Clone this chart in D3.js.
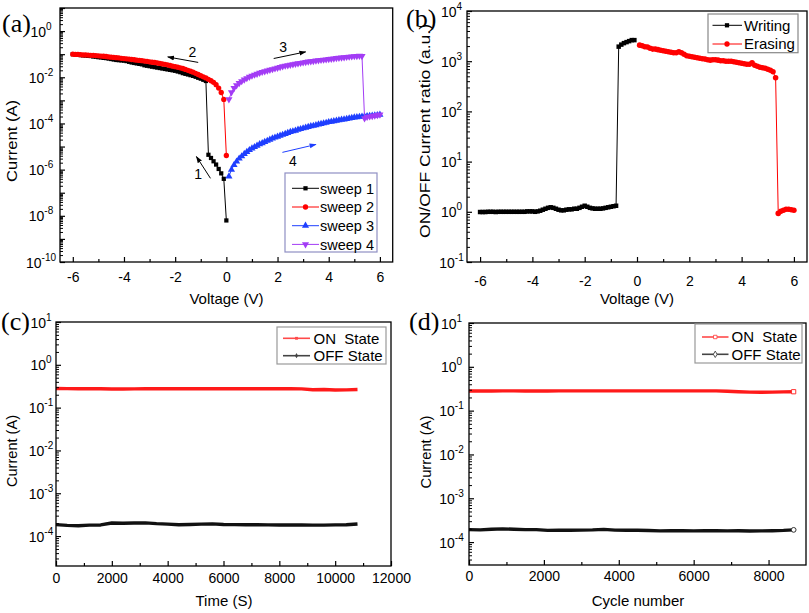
<!DOCTYPE html>
<html><head><meta charset="utf-8">
<script src="https://cdn.jsdelivr.net/npm/d3@7"></script>
<style>
body{margin:0;background:#fff;}
svg{display:block;font-family:Arial,"Liberation Sans",sans-serif;}
</style></head><body>
<svg id="chart" width="809" height="613"></svg>
<script>
// ---------- DATA ----------
// Panel (a): I-V sweeps (voltage grids in V, current in A)
const sweep1V = d3.range(0, -60.5, -1).map(v => v / 10);            // 0 -> -6
const sweep1I = [6.3e-9,4.0e-7,6.9e-7,1.07e-6,1.66e-6,2.3e-6,3.2e-6,4.4e-6,
  6.9e-3,7.8e-3,8.7e-3,9.5e-3,1.05e-2,1.15e-2,1.23e-2,1.32e-2,1.41e-2,1.51e-2,1.66e-2,1.78e-2,
  1.91e-2,2.0e-2,2.09e-2,2.19e-2,2.29e-2,2.4e-2,2.51e-2,2.63e-2,2.75e-2,2.88e-2,
  3.02e-2,3.16e-2,3.31e-2,3.63e-2,3.8e-2,3.98e-2,4.17e-2,4.37e-2,4.68e-2,5.01e-2,
  5.25e-2,5.37e-2,5.5e-2,5.62e-2,5.89e-2,6.17e-2,6.46e-2,6.76e-2,6.92e-2,7.24e-2,
  7.41e-2,7.76e-2,7.94e-2,8.32e-2,8.51e-2,8.71e-2,8.91e-2,9.12e-2,9.33e-2,9.77e-2,1.0e-1];
const sweep2V = d3.range(0, -60.5, -1).map(v => v / 10);            // 0 -> -6
const sweep2I = [4.1e-6,1.1e-3,2.19e-3,3.39e-3,4.79e-3,6.03e-3,7.08e-3,8.13e-3,9.33e-3,1.05e-2,
  1.17e-2,1.32e-2,1.48e-2,1.66e-2,1.82e-2,2.0e-2,2.19e-2,2.4e-2,2.57e-2,2.75e-2,
  2.88e-2,3.02e-2,3.24e-2,3.47e-2,3.63e-2,3.8e-2,3.98e-2,4.17e-2,4.37e-2,4.47e-2,
  4.68e-2,4.9e-2,5.01e-2,5.25e-2,5.37e-2,5.5e-2,5.75e-2,5.89e-2,6.17e-2,6.31e-2,
  6.46e-2,6.61e-2,6.92e-2,7.08e-2,7.24e-2,7.41e-2,7.59e-2,7.94e-2,8.13e-2,8.32e-2,
  8.51e-2,8.71e-2,8.91e-2,8.91e-2,9.12e-2,9.33e-2,9.33e-2,9.55e-2,9.77e-2,9.77e-2,1.0e-1];
const sweep3V = d3.range(1, 60.5, 1).map(v => v / 10);              // 0.1 -> 6
const sweep3I = [5.1e-7,1.0e-6,1.58e-6,2.24e-6,3.02e-6,3.8e-6,4.79e-6,5.89e-6,7.08e-6,8.32e-6,
  9.55e-6,1.1e-5,1.26e-5,1.41e-5,1.58e-5,1.78e-5,2.0e-5,2.24e-5,2.45e-5,2.69e-5,
  2.95e-5,3.24e-5,3.55e-5,3.89e-5,4.27e-5,4.57e-5,4.9e-5,5.37e-5,5.75e-5,6.17e-5,
  6.61e-5,7.08e-5,7.59e-5,7.94e-5,8.51e-5,9.12e-5,9.55e-5,1.02e-4,1.07e-4,1.15e-4,
  1.2e-4,1.26e-4,1.32e-4,1.38e-4,1.45e-4,1.51e-4,1.58e-4,1.66e-4,1.74e-4,1.82e-4,
  1.86e-4,1.95e-4,2.0e-4,2.04e-4,2.09e-4,2.14e-4,2.19e-4,2.24e-4,2.29e-4,2.4e-4];
const sweep4V = d3.range(1, 60.5, 1).map(v => v / 10);              // 0.1 -> 6
const sweep4I = [1.1e-3,2.24e-3,3.39e-3,4.47e-3,5.62e-3,6.76e-3,7.94e-3,9.12e-3,1.05e-2,1.17e-2,
  1.29e-2,1.41e-2,1.55e-2,1.7e-2,1.82e-2,1.95e-2,2.09e-2,2.24e-2,2.4e-2,2.57e-2,
  2.75e-2,2.95e-2,3.16e-2,3.31e-2,3.47e-2,3.63e-2,3.8e-2,3.98e-2,4.17e-2,4.37e-2,
  4.57e-2,4.79e-2,4.9e-2,5.01e-2,5.25e-2,5.37e-2,5.62e-2,5.75e-2,5.89e-2,6.17e-2,
  6.31e-2,6.46e-2,6.76e-2,6.92e-2,7.08e-2,7.24e-2,7.59e-2,7.76e-2,7.94e-2,8.13e-2,
  8.32e-2,8.51e-2,8.32e-2,1.66e-4,1.91e-4,2.0e-4,2.09e-4,2.19e-4,2.29e-4,2.4e-4];
const sweepNames = ["sweep 1","sweep 2","sweep 3","sweep 4"];
// sweep direction annotations (voltage, current)
const arrowLabels = ["1","2","3","4"];
const arrowFrom = [[-0.62,4.2e-7],[-1.10,4.4e-2],[1.85,6.5e-2],[2.19,5.6e-6]];
const arrowTo   = [[-1.17,3.7e-6],[-2.29,7.6e-2],[3.10,1.26e-1],[3.50,1.23e-5]];
const arrowText = [[-1.10,6.5e-7],[-1.33,1.26e-1],[2.22,1.95e-1],[2.60,2.45e-6]];

// Panel (b): ON/OFF ratio
const writingV = d3.range(-60, -0.5, 1).map(v => v / 10);           // -6 -> -0.1
const writingR = [0.99,0.99,0.99,1.0,1.0,1.0,0.99,1.0,1.0,1.0,
  1.0,1.0,1.0,1.0,1.0,1.0,1.0,1.0,1.02,1.02,
  1.02,1.0,1.02,1.05,1.10,1.15,1.20,1.23,1.20,1.15,
  1.10,1.07,1.07,1.10,1.12,1.12,1.15,1.15,1.20,1.26,
  1.32,1.26,1.20,1.17,1.15,1.15,1.15,1.17,1.20,1.23,
  1.26,1.29,1.32,1950,2140,2290,2400,2510,2630,2630];
const erasingV = d3.range(1, 60.5, 1).map(v => v / 10);             // 0.1 -> 6
const erasingR = [2090,2040,1950,1910,1820,1740,1740,1700,1660,1620,
  1580,1550,1510,1480,1480,1550,1480,1380,1290,1260,
  1230,1200,1170,1150,1120,1100,1070,1050,1070,1070,
  1050,1020,1020,1000,1000,1000,977,955,933,912,
  891,871,871,933,832,794,759,741,724,692,
  661,617,468,0.93,1.02,1.07,1.12,1.12,1.10,1.07];

// Panel (c): retention
const retentionT = [0,400,800,1200,1600,2000,2400,2800,3200,3600,4000,4400,4800,5200,5600,6000,
  6400,6800,7200,7600,8000,8400,8800,9200,9600,10000,10400,10800];
const retentionOn = [0.28,0.278,0.276,0.276,0.275,0.272,0.273,0.274,0.275,0.275,0.276,0.276,0.276,0.277,
  0.277,0.276,0.276,0.276,0.275,0.275,0.276,0.276,0.274,0.262,0.265,0.258,0.26,0.265];
const retentionOff = [1.85e-4,1.78e-4,1.74e-4,1.8e-4,1.82e-4,2.02e-4,2.0e-4,2.02e-4,2.03e-4,1.95e-4,1.9e-4,1.84e-4,
  1.86e-4,1.9e-4,1.93e-4,1.86e-4,1.85e-4,1.84e-4,1.84e-4,1.83e-4,1.82e-4,1.81e-4,1.81e-4,1.8e-4,
  1.8e-4,1.83e-4,1.84e-4,1.92e-4];

// Panel (d): endurance
const cycleN = [0,300,600,900,1200,1500,1800,2100,2400,2700,3000,3300,3600,3900,4200,4500,4800,5100,
  5400,5700,6000,6300,6600,6900,7200,7500,7800,8100,8400,8670];
const cycleOn = [0.28,0.28,0.281,0.282,0.282,0.281,0.281,0.281,0.282,0.282,0.282,0.282,0.282,0.282,0.282,
  0.282,0.282,0.282,0.282,0.282,0.282,0.282,0.283,0.278,0.27,0.265,0.262,0.265,0.268,0.27];
const cycleOff = [1.92e-4,1.9e-4,1.97e-4,2.0e-4,1.97e-4,1.93e-4,1.92e-4,1.85e-4,1.88e-4,1.86e-4,1.88e-4,1.9e-4,
  1.95e-4,1.88e-4,1.86e-4,1.86e-4,1.84e-4,1.8e-4,1.83e-4,1.82e-4,1.8e-4,1.82e-4,1.82e-4,1.8e-4,1.82e-4,
  1.79e-4,1.8e-4,1.82e-4,1.85e-4,1.9e-4];
const stateNames = ["ON  State","OFF State"];
const ratioNames = ["Writing","Erasing"];

// ---------- DRAWING ----------
const svg = d3.select("#chart");
const FONT = 'Arial,"Liberation Sans",sans-serif';
const SERIF = '"Times New Roman","Liberation Serif",serif';

const defs = svg.append("defs");
[["ahBlack","#000"],["ahBlue","#1f3fff"]].forEach(([id,c])=>{
  defs.append("marker").attr("id",id).attr("viewBox","0 0 10 10").attr("refX",9).attr("refY",5)
    .attr("markerWidth",7).attr("markerHeight",7).attr("orient","auto")
    .append("path").attr("d","M0,1.5 L10,5 L0,8.5 Z").attr("fill",c);
});

function decades(lo, hi){ const r=[]; for(let e=Math.ceil(Math.log10(lo)-1e-9); e<=Math.floor(Math.log10(hi)+1e-9); e++) r.push(Math.pow(10,e)); return r; }
function minors(lo, hi){
  const r=[]; for(let e=Math.floor(Math.log10(lo)); e<Math.ceil(Math.log10(hi)); e++)
    for(let m=2;m<=9;m++){ const v=m*Math.pow(10,e); if(v>lo*1.001 && v<hi*0.999) r.push(v); }
  return r;
}

function axes(g, x, y, o){
  const [x0,x1]=x.range(), [yb,yt]=y.range();
  const ax = g.append("g").attr("transform",`translate(0,${yb})`)
    .call(d3.axisBottom(x).tickValues(o.xMajor).tickSize(-5).tickSizeOuter(0).tickPadding(o.xPad).tickFormat(d=>String(d)));
  ax.select(".domain").remove();
  ax.attr("font-size",14).attr("font-family",FONT);
  ax.selectAll("line").attr("stroke","#000").attr("stroke-width",1.2);
  ax.selectAll("text").attr("fill","#000");
  const axm = g.append("g").attr("transform",`translate(0,${yb})`)
    .call(d3.axisBottom(x).tickValues(o.xMinor).tickSize(-3).tickSizeOuter(0).tickFormat(""));
  axm.select(".domain").remove();
  axm.selectAll("text").remove();
  axm.selectAll("line").attr("stroke","#000").attr("stroke-width",1.2);

  const [lo,hi]=y.domain();
  const ay = g.append("g").attr("transform",`translate(${x0},0)`)
    .call(d3.axisLeft(y).tickValues(decades(lo,hi)).tickSize(-5).tickSizeOuter(0).tickFormat(""));
  ay.select(".domain").remove();
  ay.selectAll("text").remove();
  ay.selectAll("line").attr("stroke","#000").attr("stroke-width",1.2);
  const aym = g.append("g").attr("transform",`translate(${x0},0)`)
    .call(d3.axisLeft(y).tickValues(minors(lo,hi)).tickSize(-3).tickSizeOuter(0).tickFormat(""));
  aym.select(".domain").remove();
  aym.selectAll("text").remove();
  aym.selectAll("line").attr("stroke","#000").attr("stroke-width",1);

  const lab = g.append("g").selectAll("text").data(o.yLabels).join("text")
    .attr("x", x0 - o.yOff).attr("y", d => y(d) + 5.5)
    .attr("text-anchor","middle").attr("font-size",14).attr("font-family",FONT).attr("fill","#000");
  lab.append("tspan").text("10");
  lab.append("tspan").attr("dy",-7).attr("font-size",10).text(d => String(Math.round(Math.log10(d))));

  g.append("rect").attr("x",x0).attr("y",yt).attr("width",x1-x0).attr("height",yb-yt)
    .attr("fill","none").attr("stroke","#000").attr("stroke-width",1.3);

  g.append("text").attr("x",o.xTitle[0]).attr("y",o.xTitle[1]).attr("text-anchor","middle")
    .attr("font-size",15).attr("font-family",FONT).text(o.xLabel);
  const yt2 = g.append("text").attr("transform",`translate(${o.yTitle[0]},${o.yTitle[1]}) rotate(-90)`)
    .attr("text-anchor","middle").attr("font-size",15).attr("font-family",FONT).text(o.yLabel);
  if(o.yLen) yt2.attr("textLength",o.yLen).attr("lengthAdjust","spacingAndGlyphs");

  g.append("text").attr("x",o.tag[0]).attr("y",o.tag[1]).attr("font-size",26)
    .attr("font-family",SERIF).text(o.tagText);
}

const sym = (type,size)=> d3.symbol().type(type).size(size)();
function series(g, x, y, xs, ys, color, type, size, rot){
  const pts = xs.map((v,i)=>[v, ys[i]]).filter(d=>d[1]!==undefined);
  g.append("path").datum(pts).attr("fill","none").attr("stroke",color).attr("stroke-width",1)
    .attr("d", d3.line().x(d=>x(d[0])).y(d=>y(d[1])));
  g.append("g").selectAll("path").data(pts).join("path")
    .attr("d", sym(type,size))
    .attr("transform", d=>`translate(${x(d[0])},${y(d[1])})${rot?` rotate(${rot})`:""}`)
    .attr("fill",color);
}

// ----- Panel (a) -----
{
  const g = svg.append("g");
  const x = d3.scaleLinear().domain([-6.5,6.5]).range([60,392.7]);
  const y = d3.scaleLog().domain([1e-10,10]).range([262,8]);
  const cols = ["#000000","#ff0000","#1f3fff","#a33cf5"];
  series(g,x,y,sweep1V,sweep1I,cols[0],d3.symbolSquare,18);
  series(g,x,y,sweep2V,sweep2I,cols[1],d3.symbolCircle,22);
  series(g,x,y,sweep3V,sweep3I,cols[2],d3.symbolTriangle,22);
  series(g,x,y,sweep4V,sweep4I,cols[3],d3.symbolTriangle,22,180);
  axes(g,x,y,{xMajor:[-6,-4,-2,0,2,4,6],xMinor:[-5,-3,-1,1,3,5],xPad:10.5,
    yLabels:[1e-10,1e-8,1e-6,1e-4,1e-2,1],yOff:19,
    xLabel:"Voltage (V)",xTitle:[226.5,304],yLabel:"Current (A)",yTitle:[17,141],yLen:82,
    tag:[2,32],tagText:"(a)"});
  // arrows
  arrowFrom.forEach((f,i)=>{
    const t = arrowTo[i], blue = i===3;
    g.append("line").attr("x1",x(f[0])).attr("y1",y(f[1])).attr("x2",x(t[0])).attr("y2",y(t[1]))
      .attr("stroke",blue?"#1f3fff":"#000").attr("stroke-width",1)
      .attr("marker-end",`url(#${blue?"ahBlue":"ahBlack"})`);
    g.append("text").attr("x",x(arrowText[i][0])).attr("y",y(arrowText[i][1])+5)
      .attr("text-anchor","middle").attr("font-size",14).attr("font-family",FONT).text(arrowLabels[i]);
  });
  // legend
  const lg = g.append("g");
  lg.append("rect").attr("x",285).attr("y",173).attr("width",92).attr("height",79)
    .attr("fill","#fff").attr("stroke","#8f8fc4").attr("stroke-width",1.2);
  const types=[[d3.symbolSquare,18,0],[d3.symbolCircle,22,0],[d3.symbolTriangle,22,0],[d3.symbolTriangle,22,180]];
  sweepNames.forEach((n,i)=>{
    const yy = 188.3 + i*18.7;
    lg.append("line").attr("x1",292).attr("x2",319).attr("y1",yy).attr("y2",yy).attr("stroke",cols[i]).attr("stroke-width",1);
    lg.append("path").attr("d",sym(types[i][0],types[i][1]))
      .attr("transform",`translate(305.5,${yy})${types[i][2]?" rotate(180)":""}`).attr("fill",cols[i]);
    lg.append("text").attr("x",320).attr("y",yy+5.3).attr("font-size",14.5).attr("font-family",FONT).text(n);
  });
}

// ----- Panel (b) -----
{
  const g = svg.append("g");
  const x = d3.scaleLinear().domain([-6.5,6.5]).range([467,807]);
  const y = d3.scaleLog().domain([0.1,1e4]).range([262,11]);
  series(g,x,y,writingV,writingR,"#000",d3.symbolSquare,20);
  series(g,x,y,erasingV,erasingR,"#ff0000",d3.symbolCircle,24);
  axes(g,x,y,{xMajor:[-6,-4,-2,0,2,4,6],xMinor:[-5,-3,-1,1,3,5],xPad:14,
    yLabels:[0.1,1,10,100,1000,10000],yOff:15.5,
    xLabel:"Voltage (V)",xTitle:[637,304],yLabel:"ON/OFF Current ratio (a.u.)",yTitle:[430,131],yLen:214,
    tag:[406,27],tagText:"(b)"});
  const lg = g.append("g");
  lg.append("rect").attr("x",708).attr("y",14).attr("width",90).attr("height",38.7)
    .attr("fill","#fff").attr("stroke","#888").attr("stroke-width",1.2);
  const cols=["#000","#ff0000"], types=[[d3.symbolSquare,18],[d3.symbolCircle,22]];
  ratioNames.forEach((n,i)=>{
    const yy = 25.3 + i*18.7;
    lg.append("line").attr("x1",712.5).attr("x2",742).attr("y1",yy).attr("y2",yy).attr("stroke",cols[i]).attr("stroke-width",1);
    lg.append("path").attr("d",sym(types[i][0],types[i][1])).attr("transform",`translate(727,${yy})`).attr("fill",cols[i]);
    lg.append("text").attr("x",744).attr("y",yy+5.3).attr("font-size",15).attr("font-family",FONT).text(n);
  });
}

// thick state lines for (c) and (d)
function stateLine(g,x,y,xs,ys,color){
  g.append("path").datum(xs.map((v,i)=>[v,ys[i]])).attr("fill","none").attr("stroke",color)
    .attr("stroke-width",3.4).attr("stroke-linejoin","round")
    .attr("d", d3.line().x(d=>x(d[0])).y(d=>y(d[1])));
}
function stateLegend(g, bx, by, bw, bh, rows, lx0, lx1, tx, open){
  g.append("rect").attr("x",bx).attr("y",by).attr("width",bw).attr("height",bh)
    .attr("fill","#fff").attr("stroke","#999").attr("stroke-width",1.2);
  const cols=["#ff4a4a","#444"];
  stateNames.forEach((n,i)=>{
    const yy = rows[i], mx=(lx0+lx1)/2;
    g.append("line").attr("x1",lx0).attr("x2",lx1).attr("y1",yy).attr("y2",yy).attr("stroke",cols[i]).attr("stroke-width",1.6);
    g.append("path").attr("d",sym(i===0?d3.symbolSquare:d3.symbolDiamond,open?12:8))
      .attr("transform",`translate(${mx},${yy})`)
      .attr("fill",open?"#fff":cols[i]).attr("stroke",open?cols[i]:"none").attr("stroke-width",0.9);
    g.append("text").attr("x",tx).attr("y",yy+5.3).attr("font-size",15).attr("font-family",FONT)
      .style("white-space","pre").text(n);
  });
}

// ----- Panel (c) -----
{
  const g = svg.append("g");
  const x = d3.scaleLinear().domain([0,12000]).range([56,391]);
  const y = d3.scaleLog().domain([2e-5,10]).range([566,322]);
  stateLine(g,x,y,retentionT,retentionOn,"#ff1a1a");
  stateLine(g,x,y,retentionT,retentionOff,"#111");
  axes(g,x,y,{xMajor:[0,2000,4000,6000,8000,10000,12000],xMinor:[1000,3000,5000,7000,9000,11000],xPad:7,
    yLabels:[1e-4,1e-3,1e-2,1e-1,1,10],yOff:15,
    xLabel:"Time (S)",xTitle:[224,606],yLabel:"Current (A)",yTitle:[17,451],yLen:72,
    tag:[1,330],tagText:"(c)"});
  stateLegend(g,277,327,109,37,[338.3,355.7],283,310,313.5,false);
}

// ----- Panel (d) -----
{
  const g = svg.append("g");
  const x = d3.scaleLinear().domain([0,9000]).range([469,806]);
  const y = d3.scaleLog().domain([3e-5,10]).range([565,323]);
  stateLine(g,x,y,cycleN,cycleOn,"#ff1a1a");
  stateLine(g,x,y,cycleN,cycleOff,"#111");
  const last = cycleN.length-1;
  g.append("path").attr("d",sym(d3.symbolSquare,18))
    .attr("transform",`translate(${x(cycleN[last])},${y(cycleOn[last])})`)
    .attr("fill","#fff").attr("stroke","#ff3030").attr("stroke-width",1);
  g.append("path").attr("d",sym(d3.symbolCircle,18))
    .attr("transform",`translate(${x(cycleN[last])},${y(cycleOff[last])})`)
    .attr("fill","#fff").attr("stroke","#333").attr("stroke-width",1);
  axes(g,x,y,{xMajor:[0,2000,4000,6000,8000],xMinor:[1000,3000,5000,7000],xPad:6,
    yLabels:[1e-4,1e-3,1e-2,1e-1,1,10],yOff:17.5,
    xLabel:"Cycle number",xTitle:[638,606],yLabel:"Current (A)",yTitle:[431,452],yLen:73,
    tag:[409,330],tagText:"(d)"});
  stateLegend(g,695,324,107,39,[337,354.3],702,728.5,731.5,true);
}
</script>
</body></html>
